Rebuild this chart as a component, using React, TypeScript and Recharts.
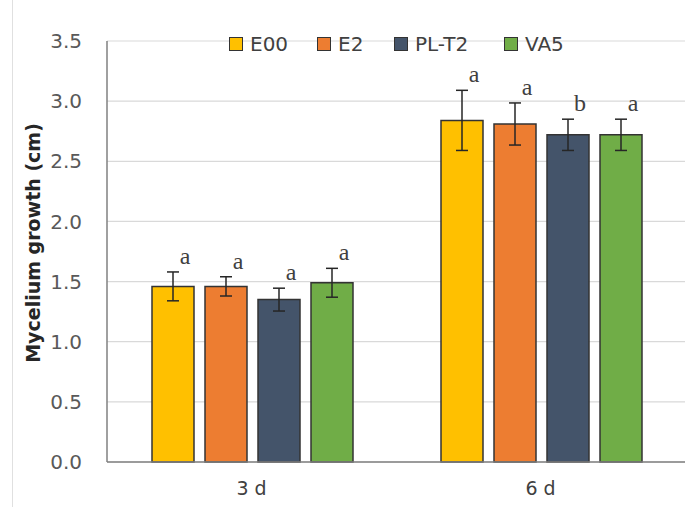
import React from 'react';
import { BarChart, Bar, XAxis, YAxis, CartesianGrid, ErrorBar, LabelList } from 'recharts';

const categories = ['3 d', '6 d'];
const seriesNames = ['E00', 'E2', 'PL-T2', 'VA5'];
const seriesColors = ['#FFC000', '#ED7D31', '#44546A', '#70AD47'];

const e00Values = [1.46, 2.84];
const e2Values = [1.46, 2.81];
const plt2Values = [1.35, 2.72];
const va5Values = [1.49, 2.72];

const e00Errors = [0.12, 0.25];
const e2Errors = [0.08, 0.175];
const plt2Errors = [0.095, 0.13];
const va5Errors = [0.12, 0.13];

const e00Letters = ['a', 'a'];
const e2Letters = ['a', 'a'];
const plt2Letters = ['a', 'b'];
const va5Letters = ['a', 'a'];

const yTicks = [0, 0.5, 1.0, 1.5, 2.0, 2.5, 3.0, 3.5];
const yLabel = 'Mycelium growth (cm)';

const seriesValues = [e00Values, e2Values, plt2Values, va5Values];
const seriesErrors = [e00Errors, e2Errors, plt2Errors, va5Errors];
const seriesLetters = [e00Letters, e2Letters, plt2Letters, va5Letters];

const data = categories.map((cat, i) => {
  const row: any = { cat };
  seriesNames.forEach((name, s) => {
    row[name] = seriesValues[s][i];
    row[name + '_err'] = seriesErrors[s][i];
    row[name + '_sig'] = seriesLetters[s][i];
  });
  return row;
});

const FONT = '"DejaVu Sans", sans-serif';
const LEGEND_X = [229, 317, 394, 504];

const makeLetterLabel = (s: number) => (props: any) => {
  const { x, y, width, height, value, index } = props;
  const v = seriesValues[s][index];
  const err = seriesErrors[s][index];
  if (v == null || !height) return null;
  const pxPerUnit = height / v;
  const errTop = y - err * pxPerUnit;
  return (
    <text
      x={x + width / 2 + 12}
      y={errTop - 8}
      textAnchor="middle"
      fontFamily='"Liberation Serif", "DejaVu Serif", serif'
      fontSize={24}
      fill="#404040"
    >
      {value}
    </text>
  );
};

export default function App() {
  return (
    <div style={{ position: 'absolute', left: 0, top: 0, width: 697, height: 507, background: '#fff' }}>
      <div style={{ position: 'absolute', left: 12, top: 0, width: 1, height: 507, background: '#e0e0e0' }} />
      <BarChart
        width={697}
        height={507}
        data={data}
        margin={{ top: 41, right: 12, bottom: 0, left: 0 }}
        barCategoryGap={45}
        barGap={11}
      >
        <CartesianGrid vertical={false} stroke="#d9d9d9" strokeWidth={1.2} />
        <XAxis
          dataKey="cat"
          tickLine={false}
          tickSize={0}
          tickMargin={20}
          height={45}
          axisLine={{ stroke: '#808080', strokeWidth: 1.5 }}
          tick={{ fill: '#404040', fontSize: 19, fontFamily: FONT }}
        />
        <YAxis
          domain={[0, 3.5]}
          ticks={yTicks}
          interval={0}
          tickFormatter={(v: number) => v.toFixed(1)}
          tickLine={false}
          tickSize={0}
          tickMargin={25}
          width={107}
          axisLine={{ stroke: '#808080', strokeWidth: 1.5 }}
          tick={{ fill: '#595959', fontSize: 20, fontFamily: FONT }}
          label={{
            content: () => (
              <text
                x={33}
                y={243}
                transform="rotate(-90, 33, 243)"
                textAnchor="middle"
                dominantBaseline="central"
                fontFamily={FONT}
                fontWeight="bold"
                fontSize={19}
                fill="#262626"
              >
                {yLabel}
              </text>
            ),
          }}
        />
        {seriesNames.map((name, s) => (
          <Bar
            key={name}
            dataKey={name}
            fill={seriesColors[s]}
            stroke="#333333"
            strokeWidth={1.5}
            isAnimationActive={false}
          >
            <ErrorBar dataKey={name + '_err'} width={6} stroke="#262626" strokeWidth={1.5} isAnimationActive={false} />
            <LabelList dataKey={name + '_sig'} content={makeLetterLabel(s)} />
          </Bar>
        ))}
      </BarChart>
      {seriesNames.map((n, i) => (
        <div
          key={n}
          style={{
            position: 'absolute',
            left: LEGEND_X[i],
            top: 32,
            height: 24,
            display: 'flex',
            alignItems: 'center',
            fontFamily: FONT,
            fontSize: 20,
            color: '#404040',
            whiteSpace: 'nowrap',
          }}
        >
          <div style={{ width: 12, height: 12, background: seriesColors[i], border: '1px solid #333', marginRight: 7 }} />
          <span>{n}</span>
        </div>
      ))}
    </div>
  );
}
